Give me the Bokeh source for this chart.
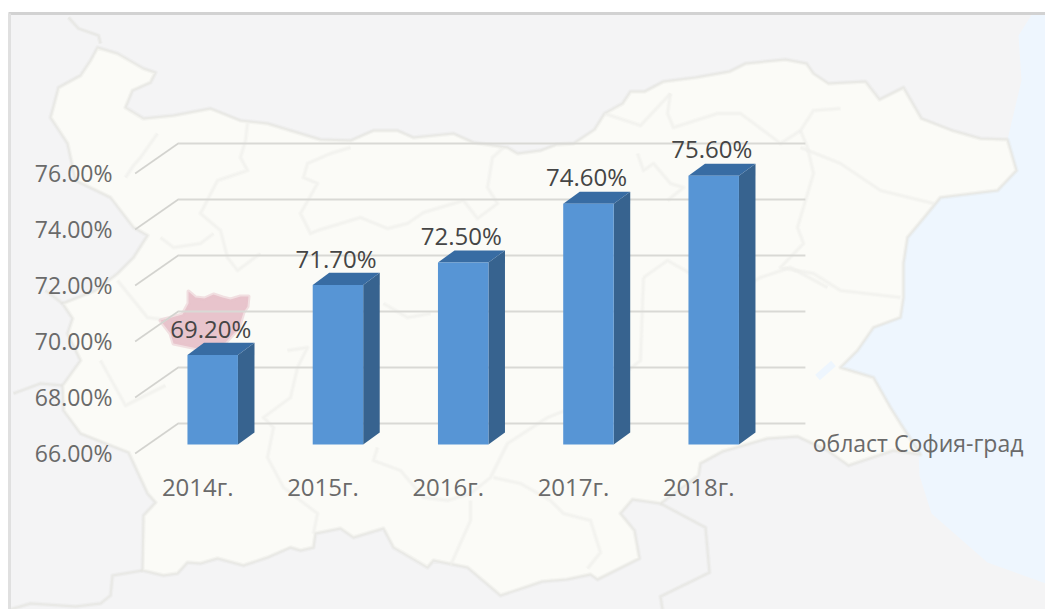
from bokeh.plotting import figure
from bokeh.models import Range1d
from bokeh.core.properties import value
from bokeh.embed import file_html
from bokeh.resources import INLINE

years = ["2014г.", "2015г.", "2016г.", "2017г.", "2018г."]
rates = [69.2, 71.7, 72.5, 74.6, 75.6]
rate_labels = ["69.20%", "71.70%", "72.50%", "74.60%", "75.60%"]
y_ticks = [66, 68, 70, 72, 74, 76]
y_tick_labels = ["66.00%", "68.00%", "70.00%", "72.00%", "74.00%", "76.00%"]
series_name = "област София-град"

# Background map (image pixel coordinates)
land = [(97,47),(117,53),(143,68),(155,72),(150,82),(132,90),(125,107),(143,118),(173,115),(210,108),(240,120),
        (267,123),(300,133),(320,139),(350,140),(373,130),(397,130),(413,137),(453,133),(473,142),(507,147),(517,153),
        (540,150),(556,144),(573,143),(594,129),(604,113),(622,103),(630,91),(644,91),(663,81),(695,77),(729,71),
        (745,63),(785,59),(806,63),(813,73),(828,83),(865,81),(879,99),(903,87),(921,118),(952,130),(980,138),(1007,139),
        (1016,170),(997,190),(940,197),(927,213),(907,237),(903,263),(903,297),(900,317),(873,327),(857,350),(840,367),
        (873,377),(890,407),(900,423),(920,454),(893,450),(848,465),(827,450),(797,436),(767,438),(722,451),(700,463),
        (698,475),(660,503),(632,499),(620,513),(634,530),(639,558),(597,579),(590,574),(566,579),(542,581),(500,595),
        (467,567),(433,560),(427,567),(393,547),(383,528),(353,537),(340,528),(315,533),(313,547),(300,550),(290,547),
        (267,557),(243,565),(217,558),(200,563),(187,562),(177,573),(163,575),(142,570),(143,515),(155,502),(147,493),
        (128,452),(110,445),(80,433),(63,410),(62,385),(80,360),(67,333),(72,318),(62,303),(95,290),(117,273),(133,257),
        (147,235),(133,227),(110,197),(75,180),(67,143),(50,117),(58,87),(80,75),(90,60)]
sea = [(1032,13),(1018,35),(1021,80),(1007,139),(1016,170),(997,190),(940,197),(927,213),(907,237),(903,263),(903,297),
       (900,317),(873,327),(857,350),(840,367),(873,377),(890,407),(900,423),(918,452),(919,475),(931,513),(987,562),
       (1045,583),(1045,13)]
sofia = [(188,291),(195,297),(204,298),(213,294),(222,297),(230,299),(240,296),(248,296),(247,306),(243,312),(238,328),
         (225,342),(197,348),(173,343),(170,333),(160,320),(182,314),(188,303)]
outer_lines = [
    [(68,17),(78,28),(98,35),(100,43)],
    [(142,570),(112,575),(110,595),(100,603),(75,606),(30,603),(10,609)],
    [(660,503),(705,527),(709,572),(660,596),(662,609)],
    [(62,303),(45,290)],
    [(62,385),(40,383),(13,393)],
]
inner_lines = [
    [(157,133),(140,157),(133,165),(125,177)],
    [(247,123),(245,140),(240,157),(247,170),(217,180),(200,213),(220,230),(227,257),(237,270),(260,253)],
    [(160,237),(173,247),(200,243),(213,233)],
    [(350,147),(330,153),(307,163),(303,177),(317,183),(300,213),(310,233),(317,230),(360,217),(387,228),(407,223),
     (423,212),(463,200),(477,218),(497,203),(487,187),(492,157),(503,147)],
    [(117,280),(147,317),(170,320)],
    [(100,360),(125,405),(165,385)],
    [(383,303),(407,317),(430,313)],
    [(287,350),(307,347),(297,367),(290,397),(263,417),(273,427),(267,457),(283,487),(317,513),(313,533)],
    [(377,447),(373,460),(400,470),(423,497),(447,500),(470,493),(490,477),(507,443),(547,417),(590,400)],
    [(493,477),(520,483),(550,500),(563,513),(590,520),(600,552),(587,568)],
    [(470,500),(470,520),(450,565)],
    [(670,93),(667,113),(673,127),(717,113),(740,113),(767,133),(780,143),(800,130),(813,110),(840,108)],
    [(800,130),(807,147),(813,173),(797,227),(803,243),(780,267),(813,273),(840,290),(900,297)],
    [(637,153),(643,170),(653,163),(670,183),(683,187),(667,200)],
    [(643,277),(667,260),(690,273),(720,300),(760,277),(790,267),(827,287)],
    [(800,147),(840,163),(880,190),(933,203)],
    [(604,113),(640,125),(670,93)],
    [(590,400),(640,360),(643,277)],
]
lake = [(817,377),(833,363)]
top_border = [(8,13),(1045,13)]
left_border = [(9,13),(9,609)]

# Chart geometry, in chart units
BAR_W = 0.403
DX, DY = 0.132, 0.43
BASE = 66
GRID_X0, GRID_X1, GRID_X2 = -0.619, -0.2756, 4.732
GRID_FRONT, GRID_BACK = -0.32, 0.75

W, H = 1045, 609
PX_PER_X, PX_PER_Y = 125.25, 28.0
X0, Y0 = 212.2, 444.0

p = figure(width=W, height=H, output_backend="svg", toolbar_location=None,
           x_range=Range1d(-X0 / PX_PER_X, (W - X0) / PX_PER_X),
           y_range=Range1d(66 - (H - Y0) / PX_PER_Y, 66 + Y0 / PX_PER_Y),
           min_border=0, outline_line_color=None, background_fill_color="#ffffff", border_fill_color="#ffffff")
p.axis.visible = False
p.grid.visible = False
p.extra_x_ranges["px"] = Range1d(0, W)
p.extra_y_ranges["px"] = Range1d(H, 0)
PX = dict(x_range_name="px", y_range_name="px")

def xs(pts): return [a for a, _ in pts]
def ys(pts): return [b for _, b in pts]

# background
bg = [(8,13),(1045,13),(1045,609),(8,609)]
p.patch(xs(bg), ys(bg), fill_color="#f4f4f5", line_color=None, **PX)
p.patch(xs(sea), ys(sea), fill_color="#eef6fe", line_color=None, **PX)
p.patch(xs(land), ys(land), fill_color="#fbfbf7", line_color=None, **PX)
for wd, al in ((4.5, 0.3), (2, 0.6)):
    p.patch(xs(land), ys(land), fill_color=None, line_color="#e4e4e0", line_width=wd, line_alpha=al, line_join="round", **PX)
    p.multi_line([xs(l) for l in outer_lines], [ys(l) for l in outer_lines], line_color="#e4e4e0",
                 line_width=wd, line_alpha=al, line_join="round", **PX)
    p.multi_line([xs(l) for l in inner_lines], [ys(l) for l in inner_lines], line_color="#f0f0ec",
                 line_width=wd, line_alpha=al, line_join="round", **PX)
p.line(xs(lake), ys(lake), line_color="#eef6fe", line_width=7, **PX)
p.patch(xs(sofia), ys(sofia), fill_color="#e8c4cc", line_color="#e8c4cc", line_alpha=0.5, line_width=4, line_join="round", **PX)
p.line(xs(top_border), ys(top_border), line_color="#d2d2d2", line_width=3, **PX)
p.line(xs(left_border), ys(left_border), line_color="#e0e0e0", line_width=3, **PX)

# gridlines on the wall
p.multi_line([[GRID_X0, GRID_X1, GRID_X2] for _ in y_ticks],
             [[t + GRID_FRONT, t + GRID_BACK, t + GRID_BACK] for t in y_ticks],
             line_color="#d9d9d5", line_width=2)
p.multi_line([[GRID_X0, GRID_X1] for _ in y_ticks],
             [[t + GRID_FRONT, t + GRID_BACK] for t in y_ticks], line_color="#d2d2ce", line_width=1)

# 3-D bars
idx = list(range(len(rates)))
p.patches([[i + BAR_W/2, i + BAR_W/2 + DX, i + BAR_W/2 + DX, i + BAR_W/2] for i in idx],
          [[BASE, BASE + DY, v + DY, v] for v in rates], fill_color="#37638f", line_color=None)
p.patches([[i - BAR_W/2, i - BAR_W/2 + DX, i + BAR_W/2 + DX, i + BAR_W/2] for i in idx],
          [[v, v + DY, v + DY, v] for v in rates], fill_color="#386ca3", line_color=None)
p.vbar(x=idx, top=rates, bottom=BASE, width=BAR_W, fill_color="#5795d5", line_color=None)

FONT = value("Open Sans")
p.text(x=[-0.8] * len(y_ticks), y=[t - 0.32 for t in y_ticks], text=y_tick_labels, text_align="right",
       text_baseline="middle", text_font=FONT, text_font_size="23px", text_color="#6a6a6a")
p.text(x=[i - 0.12 for i in idx], y=[BASE - 1.5] * len(idx), text=years, text_align="center",
       text_baseline="middle", text_font=FONT, text_font_size="24px", text_color="#6a6a6a")
p.text(x=[i - 0.015 for i in idx], y=[v + 0.96 for v in rates], text=rate_labels, text_align="center",
       text_baseline="middle", text_font=FONT, text_font_size="24px", text_color="#454545")
p.text(x=[4.79], y=[BASE + 0.07], text=[series_name], text_align="left",
       text_baseline="middle", text_font=FONT, text_font_size="23px", text_color="#6a6a6a")

open("out.html", "w").write(file_html(p, INLINE))
